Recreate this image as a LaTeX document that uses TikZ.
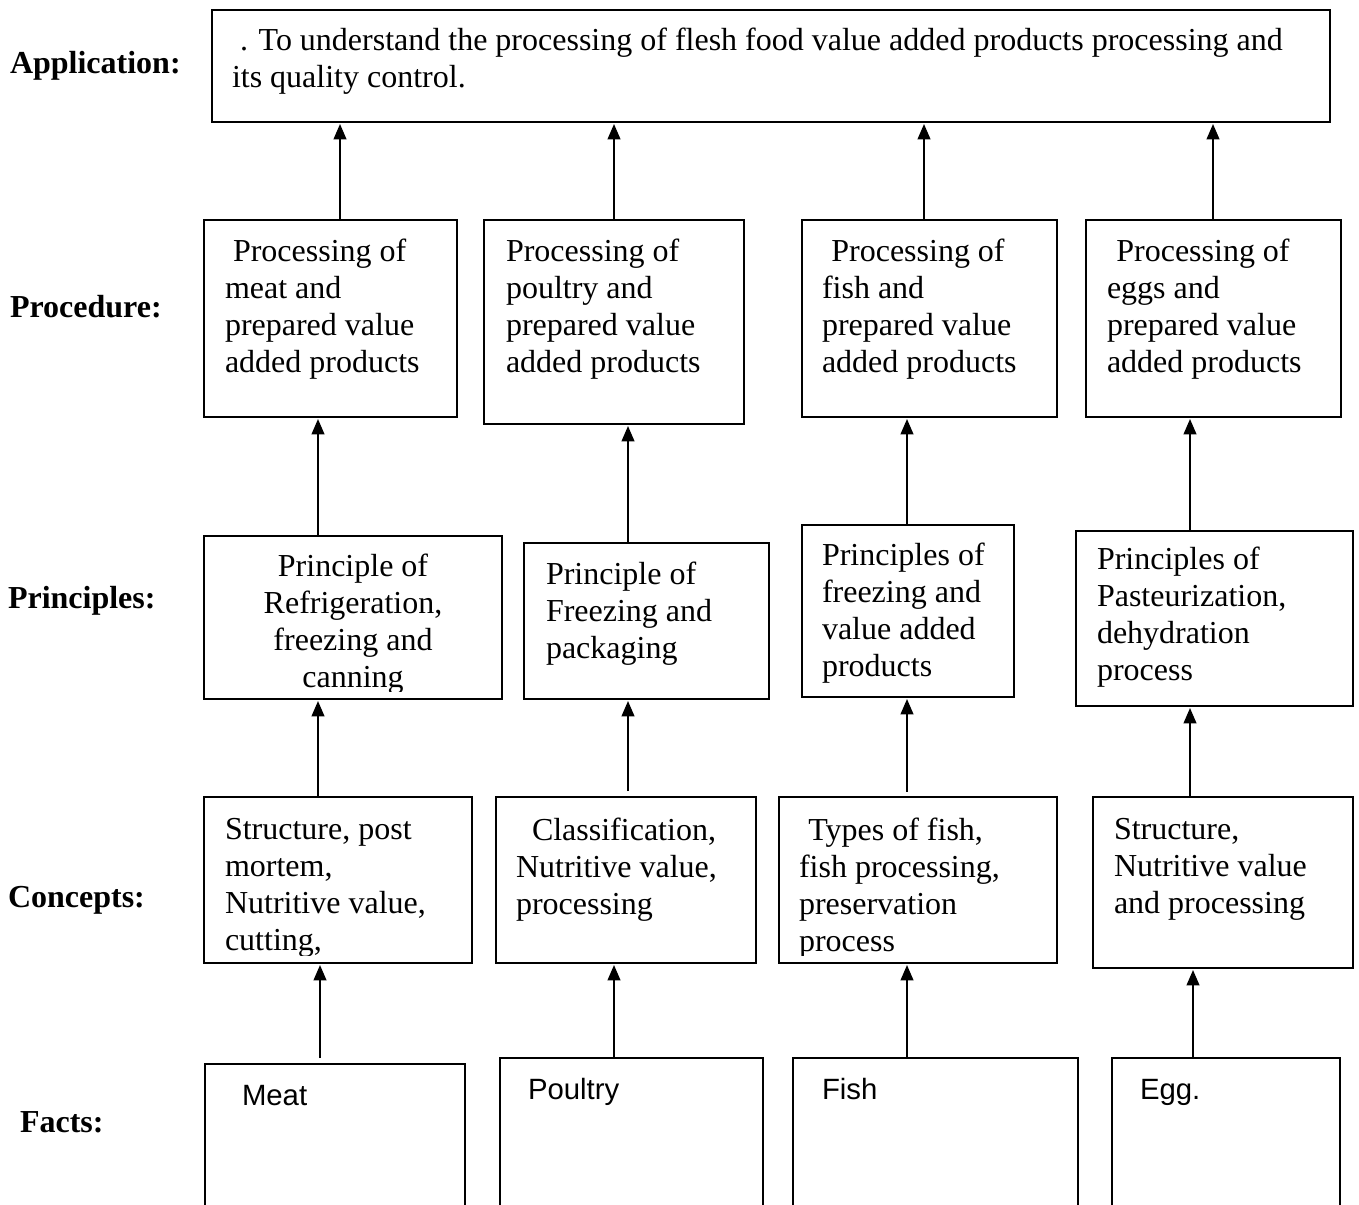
\documentclass[tikz,border=0pt]{standalone}
\usepackage{fontspec}
\setmainfont{Liberation Serif}
\newfontfamily\factfont{Liberation Sans}
\usetikzlibrary{arrows.meta,calc}

% one unit = one pixel of the drawing, y grows downwards
\tikzset{
  x=0.75pt, y=-0.75pt,
  box/.style={draw, line width=1.4pt, inner sep=0pt, outer sep=0pt, anchor=north west},
  txt/.style={inner sep=0pt, outer sep=0pt, anchor=north west, align=left,
    font=\fontsize{24}{27.75}\selectfont, execute at begin node=\strut},
  facttxt/.style={font=\factfont\fontsize{22}{25.3}\selectfont},
  lab/.style={inner sep=0pt, outer sep=0pt, anchor=base west,
    font=\bfseries\fontsize{24}{27.75}\selectfont},
  arr/.style={line width=1.5pt, -{Triangle[width=9.5pt,length=11.5pt]}, shorten >=1.5pt},
}

% box given by left, top, right, bottom
\newcommand\mkbox[5]{%
  \node[box, minimum width={(#4-#2)*0.75pt}, minimum height={(#5-#3)*0.75pt}] (#1) at (#2,#3) {};}
% text inside a box, clipped to the box's inner area
\newcommand\boxtext[5]{%
  \begin{scope}
    \clip ($(#2.south west)+(0,-8)$) rectangle (#2.north east);
    \node[txt,#4] (#1) at #3 {#5};
  \end{scope}}

\begin{document}
\begin{tikzpicture}
\path[use as bounding box, clip] (0,0) rectangle (1359,1205);

% ---- row labels
\node[lab] (lapp)  at (10,74)   {Application:};
\node[lab] (lproc) at (10,318)  {Procedure:};
\node[lab] (lprin) at (8,608)   {Principles:};
\node[lab] (lconc) at (8,907)   {Concepts:};
\node[lab] (lfact) at (20,1132) {Facts:};

% ---- boxes
\mkbox{app}{212}{10}{1330}{122}

\mkbox{pr1}{204}{220}{457}{417}
\mkbox{pr2}{484}{220}{744}{424}
\mkbox{pr3}{802}{220}{1057}{417}
\mkbox{pr4}{1086}{220}{1341}{417}

\mkbox{pn1}{204}{536}{502}{699}
\mkbox{pn2}{524}{543}{769}{699}
\mkbox{pn3}{802}{525}{1014}{697}
\mkbox{pn4}{1076}{531}{1353}{706}

\mkbox{cn1}{204}{797}{472}{963}
\mkbox{cn2}{496}{797}{756}{963}
\mkbox{cn3}{779}{797}{1057}{963}
\mkbox{cn4}{1093}{797}{1353}{968}

\mkbox{ft1}{205}{1064}{465}{1240}
\mkbox{ft2}{500}{1058}{763}{1240}
\mkbox{ft3}{793}{1058}{1078}{1240}
\mkbox{ft4}{1112}{1058}{1340}{1240}

% ---- texts
\boxtext{tapp}{app}{($(app.north west)+(20,18)$)}{}{\hspace*{6pt}. To understand the processing of flesh food value added products processing and\\its quality control.}

\boxtext{tpr1}{pr1}{($(pr1.north west)+(21,19)$)}{}{\hspace*{6pt}Processing of\\meat and\\prepared value\\added products}
\boxtext{tpr2}{pr2}{($(pr2.north west)+(22,19)$)}{}{Processing of\\poultry and\\prepared value\\added products}
\boxtext{tpr3}{pr3}{($(pr3.north west)+(20,19)$)}{}{\hspace*{7pt}Processing of\\fish and\\prepared value\\added products}
\boxtext{tpr4}{pr4}{($(pr4.north west)+(21,19)$)}{}{\hspace*{7pt}Processing of\\eggs and\\prepared value\\added products}

\boxtext{tpn1}{pn1}{($(pn1.north)+(0,18)$)}{anchor=north, align=center}{Principle of\\Refrigeration,\\freezing and\\canning}
\boxtext{tpn2}{pn2}{($(pn2.north west)+(22,19)$)}{}{Principle of\\Freezing and\\packaging}
\boxtext{tpn3}{pn3}{($(pn3.north west)+(20,18)$)}{}{Principles of\\freezing and\\value added\\products}
\boxtext{tpn4}{pn4}{($(pn4.north west)+(21,16)$)}{}{Principles of\\Pasteurization,\\dehydration\\process}

\boxtext{tcn1}{cn1}{($(cn1.north west)+(21,21)$)}{}{Structure, post\\mortem,\\Nutritive value,\\cutting,}
\boxtext{tcn2}{cn2}{($(cn2.north west)+(20,21)$)}{}{\hspace*{12pt}Classification,\\Nutritive value,\\processing}
\boxtext{tcn3}{cn3}{($(cn3.north west)+(20,21)$)}{}{\hspace*{7pt}Types of fish,\\fish processing,\\preservation\\process}
\boxtext{tcn4}{cn4}{($(cn4.north west)+(21,21)$)}{}{Structure,\\Nutritive value\\and processing}

\boxtext{tft1}{ft1}{($(ft1.north west)+(37,18)$)}{facttxt}{Meat}
\boxtext{tft2}{ft2}{($(ft2.north west)+(28,18)$)}{facttxt}{Poultry}
\boxtext{tft3}{ft3}{($(ft3.north west)+(29,18)$)}{facttxt}{Fish}
\boxtext{tft4}{ft4}{($(ft4.north west)+(28,18)$)}{facttxt}{Egg.}

% ---- arrow columns
\coordinate (a1) at (340,0);  \coordinate (a2) at (614,0);
\coordinate (a3) at (924,0);  \coordinate (a4) at (1213,0);
\coordinate (b1) at (318,0);  \coordinate (b2) at (628,0);
\coordinate (b3) at (907,0);  \coordinate (b4) at (1190,0);
\coordinate (d1) at (320,0);  \coordinate (d2) at (614,0);
\coordinate (d3) at (907,0);  \coordinate (d4) at (1193,0);

% procedure -> application
\draw[arr] (pr1.north -| a1) -- (app.south -| a1);
\draw[arr] (pr2.north -| a2) -- (app.south -| a2);
\draw[arr] (pr3.north -| a3) -- (app.south -| a3);
\draw[arr] (pr4.north -| a4) -- (app.south -| a4);

% principles -> procedure
\draw[arr] (pn1.north -| b1) -- (pr1.south -| b1);
\draw[arr] (pn2.north -| b2) -- (pr2.south -| b2);
\draw[arr] (pn3.north -| b3) -- (pr3.south -| b3);
\draw[arr] (pn4.north -| b4) -- (pr4.south -| b4);

% concepts -> principles
\draw[arr] (cn1.north -| b1) -- (pn1.south -| b1);
\draw[arr, shorten <=4.5pt] (cn2.north -| b2) -- (pn2.south -| b2);
\draw[arr, shorten <=4pt] (cn3.north -| b3) -- (pn3.south -| b3);
\draw[arr] (cn4.north -| b4) -- (pn4.south -| b4);

% facts -> concepts
\draw[arr, shorten <=4.5pt] (ft1.north -| d1) -- (cn1.south -| d1);
\draw[arr] (ft2.north -| d2) -- (cn2.south -| d2);
\draw[arr] (ft3.north -| d3) -- (cn3.south -| d3);
\draw[arr] (ft4.north -| d4) -- (cn4.south -| d4);
\end{tikzpicture}
\end{document}
